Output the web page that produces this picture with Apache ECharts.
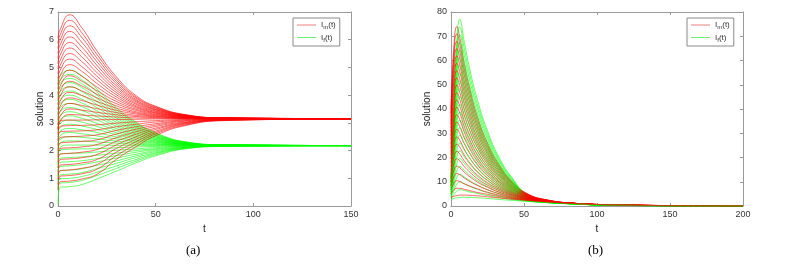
<!DOCTYPE html>
<html><head><meta charset="utf-8">
<script src="https://cdn.jsdelivr.net/npm/echarts@6/dist/echarts.min.js"></script>
<style>html,body{margin:0;padding:0;background:#fff}#c{width:799px;height:269px}</style>
</head><body><div id="c"></div>
<script>
// ---------- Panel (a) ----------
const tA = [0, 1, 6, 12, 20, 30, 40, 50, 65, 85, 150];
const xTicksA = [0, 50, 100, 150];
const yTicksA = [0, 1, 2, 3, 4, 5, 6, 7];
// I_m(t) curves (one row per curve, values at tA)
const redA = [
 [6.05,6.35,6.90,6.45,5.59,4.65,3.98,3.60,3.30,3.18,3.15],
 [5.86,6.16,6.70,6.27,5.46,4.57,3.93,3.58,3.29,3.18,3.15],
 [5.68,5.98,6.50,6.10,5.33,4.49,3.89,3.55,3.28,3.18,3.15],
 [5.50,5.80,6.30,5.92,5.20,4.41,3.84,3.53,3.28,3.18,3.15],
 [5.31,5.61,6.10,5.75,5.07,4.33,3.80,3.50,3.27,3.17,3.15],
 [5.13,5.43,5.90,5.57,4.94,4.25,3.76,3.48,3.26,3.17,3.15],
 [4.94,5.24,5.70,5.39,4.81,4.17,3.71,3.46,3.25,3.17,3.15],
 [4.76,5.06,5.50,5.22,4.68,4.09,3.67,3.43,3.24,3.17,3.15],
 [4.58,4.88,5.30,5.04,4.55,4.01,3.62,3.41,3.24,3.17,3.15],
 [4.39,4.69,5.10,4.87,4.42,3.93,3.58,3.38,3.23,3.17,3.15],
 [4.21,4.51,4.90,4.69,4.29,3.85,3.54,3.36,3.22,3.16,3.15],
 [4.02,4.32,4.70,4.51,4.16,3.77,3.49,3.34,3.21,3.16,3.15],
 [3.84,4.14,4.50,4.34,4.03,3.69,3.45,3.31,3.20,3.16,3.15],
 [3.66,3.96,4.30,4.16,3.90,3.61,3.40,3.29,3.20,3.16,3.15],
 [3.47,3.77,4.10,3.99,3.77,3.53,3.36,3.26,3.19,3.16,3.15],
 [3.29,3.59,3.90,3.81,3.64,3.45,3.32,3.24,3.18,3.16,3.15],
 [3.10,3.40,3.70,3.63,3.51,3.37,3.27,3.22,3.17,3.15,3.15],
 [2.92,3.22,3.50,3.46,3.38,3.29,3.23,3.19,3.16,3.15,3.15],
 [2.74,3.04,3.30,3.28,3.25,3.21,3.18,3.17,3.16,3.15,3.15],
 [2.77,3.07,3.10,3.10,3.11,3.12,3.13,3.14,3.14,3.15,3.15],
 [2.57,2.87,2.90,2.91,2.93,2.99,3.04,3.08,3.12,3.14,3.15],
 [2.37,2.67,2.70,2.71,2.75,2.86,2.95,3.03,3.10,3.14,3.15],
 [2.17,2.47,2.50,2.52,2.57,2.73,2.86,2.97,3.08,3.13,3.15],
 [1.97,2.27,2.30,2.33,2.39,2.60,2.77,2.92,3.06,3.12,3.15],
 [1.77,2.07,2.10,2.13,2.22,2.47,2.68,2.87,3.03,3.12,3.15],
 [1.57,1.87,1.90,1.94,2.04,2.34,2.59,2.81,3.01,3.11,3.15],
 [1.37,1.67,1.70,1.74,1.86,2.21,2.50,2.76,2.99,3.11,3.15],
 [1.17,1.47,1.50,1.55,1.68,2.08,2.41,2.70,2.97,3.10,3.15],
 [0.97,1.27,1.30,1.36,1.50,1.95,2.32,2.65,2.95,3.09,3.15],
 [0.77,1.07,1.10,1.16,1.33,1.82,2.23,2.60,2.92,3.09,3.15],
 [0.57,0.87,0.90,0.97,1.15,1.69,2.14,2.54,2.90,3.08,3.15]
];
// I_f(t) curves (one row per curve, values at tA)
const greenA = [
 [4.50,4.70,4.90,4.70,4.22,3.54,3.02,2.64,2.32,2.21,2.18],
 [4.36,4.56,4.75,4.56,4.11,3.47,2.98,2.62,2.31,2.21,2.18],
 [4.22,4.42,4.60,4.42,4.00,3.39,2.93,2.59,2.30,2.20,2.18],
 [4.07,4.27,4.45,4.28,3.88,3.32,2.88,2.57,2.29,2.20,2.18],
 [3.93,4.13,4.30,4.14,3.77,3.24,2.84,2.54,2.29,2.20,2.18],
 [3.78,3.98,4.15,4.00,3.66,3.17,2.79,2.51,2.28,2.20,2.18],
 [3.64,3.84,4.00,3.86,3.55,3.09,2.74,2.49,2.27,2.20,2.18],
 [3.50,3.70,3.85,3.72,3.43,3.02,2.70,2.46,2.26,2.20,2.18],
 [3.35,3.55,3.70,3.59,3.32,2.94,2.65,2.44,2.26,2.20,2.18],
 [3.21,3.41,3.55,3.45,3.21,2.87,2.60,2.41,2.25,2.19,2.18],
 [3.06,3.26,3.40,3.31,3.10,2.79,2.56,2.39,2.24,2.19,2.18],
 [2.92,3.12,3.25,3.17,2.98,2.72,2.51,2.36,2.23,2.19,2.18],
 [2.78,2.98,3.10,3.03,2.87,2.64,2.47,2.34,2.23,2.19,2.18],
 [2.63,2.83,2.95,2.89,2.76,2.57,2.42,2.31,2.22,2.19,2.18],
 [2.49,2.69,2.80,2.75,2.65,2.49,2.37,2.29,2.21,2.19,2.18],
 [2.34,2.54,2.65,2.61,2.53,2.42,2.33,2.26,2.20,2.18,2.18],
 [2.20,2.40,2.50,2.48,2.42,2.34,2.28,2.23,2.20,2.18,2.18],
 [2.06,2.26,2.35,2.34,2.31,2.27,2.23,2.21,2.19,2.18,2.18],
 [1.91,2.11,2.20,2.20,2.20,2.19,2.19,2.18,2.18,2.18,2.18],
 [1.82,2.02,2.05,2.06,2.07,2.10,2.13,2.15,2.17,2.18,2.18],
 [1.67,1.87,1.90,1.91,1.95,2.01,2.06,2.11,2.16,2.17,2.18],
 [1.52,1.72,1.75,1.77,1.83,1.91,2.00,2.07,2.15,2.17,2.18],
 [1.37,1.57,1.60,1.63,1.71,1.82,1.94,2.04,2.13,2.17,2.18],
 [1.22,1.42,1.45,1.49,1.59,1.73,1.87,2.00,2.12,2.17,2.18],
 [1.07,1.27,1.30,1.34,1.47,1.63,1.81,1.96,2.11,2.16,2.18],
 [0.92,1.12,1.15,1.20,1.35,1.54,1.75,1.92,2.10,2.16,2.18],
 [0.77,0.97,1.00,1.06,1.22,1.45,1.68,1.89,2.09,2.16,2.18],
 [0.62,0.82,0.85,0.92,1.10,1.36,1.62,1.85,2.07,2.15,2.18],
 [0.05,0.67,0.70,0.77,0.98,1.26,1.56,1.81,2.06,2.15,2.18]
];

// ---------- Panel (b) ----------
const tB = [0, 2, 4, 6, 9, 13, 18, 25, 33, 42, 52, 65, 85, 110, 150, 200];
const xTicksB = [0, 50, 100, 150, 200];
const yTicksB = [0, 10, 20, 30, 40, 50, 60, 70, 80];
// I_m(t): one array per time in tB, holding the value of every curve at that time
const redB = [
 [40.0,38.4,36.8,35.2,33.7,32.1,30.5,28.9,27.3,25.7,24.1,22.5,21.0,19.4,17.8,16.2,14.6,13.0,11.4,9.8,8.3,6.7,5.1,3.5],
 [66.0,63.3,60.6,57.9,55.2,52.5,49.8,47.1,44.4,41.7,39.0,36.3,33.6,31.0,28.3,25.6,22.9,20.2,17.5,14.8,12.1,9.4,6.7,4.0],
 [74.0,71.0,67.9,64.9,61.9,58.8,55.8,52.8,49.8,46.7,43.7,40.7,37.6,34.6,31.6,28.5,25.5,22.5,19.5,16.4,13.4,10.4,7.3,4.3],
 [69.5,66.7,63.8,61.0,58.2,55.4,52.5,49.7,46.9,44.0,41.2,38.4,35.6,32.7,29.9,27.1,24.2,21.4,18.6,15.8,12.9,10.1,7.3,4.45],
 [59.0,56.6,54.3,51.9,49.5,47.2,44.8,42.4,40.0,37.7,35.3,32.9,30.6,28.2,25.8,23.5,21.1,18.7,16.3,14.0,11.6,9.2,6.9,4.5],
 [48.0,46.1,44.2,42.3,40.4,38.5,36.6,34.7,32.8,30.9,29.0,27.1,25.3,23.4,21.5,19.6,17.7,15.8,13.9,12.0,10.1,8.2,6.3,4.4],
 [37.0,35.6,34.1,32.7,31.3,29.9,28.4,27.0,25.6,24.2,22.7,21.3,19.9,18.5,17.0,15.6,14.2,12.8,11.3,9.9,8.5,7.1,5.6,4.2],
 [26.0,25.0,24.1,23.1,22.1,21.2,20.2,19.2,18.3,17.3,16.3,15.4,14.4,13.5,12.5,11.5,10.6,9.6,8.6,7.7,6.7,5.7,4.8,3.8],
 [17.0,16.4,15.8,15.2,14.6,14.0,13.4,12.8,12.2,11.6,11.0,10.4,9.9,9.3,8.7,8.1,7.5,6.9,6.3,5.7,5.1,4.5,3.9,3.3],
 [10.0,9.7,9.4,9.1,8.7,8.4,8.1,7.8,7.5,7.2,6.9,6.6,6.2,5.9,5.6,5.3,5.0,4.7,4.4,4.1,3.7,3.4,3.1,2.8],
 [5.2,5.07,4.95,4.82,4.70,4.57,4.44,4.32,4.19,4.07,3.94,3.81,3.69,3.56,3.43,3.31,3.18,3.06,2.93,2.80,2.68,2.55,2.43,2.30],
 [2.60,2.56,2.52,2.48,2.44,2.40,2.37,2.33,2.29,2.25,2.21,2.17,2.13,2.09,2.05,2.01,1.97,1.93,1.90,1.86,1.82,1.78,1.74,1.70],
 [1.10,1.10,1.09,1.09,1.08,1.08,1.07,1.07,1.07,1.06,1.06,1.05,1.05,1.04,1.04,1.03,1.03,1.03,1.02,1.02,1.01,1.01,1.00,1.00],
 [0.45,0.45,0.45,0.46,0.46,0.46,0.46,0.47,0.47,0.47,0.47,0.47,0.48,0.48,0.48,0.48,0.48,0.49,0.49,0.49,0.49,0.50,0.50,0.50],
 [0.15,0.15,0.15,0.15,0.15,0.15,0.15,0.15,0.16,0.16,0.16,0.16,0.16,0.16,0.16,0.16,0.17,0.17,0.17,0.17,0.17,0.17,0.17,0.17],
 [0.03,0.03,0.03,0.03,0.03,0.03,0.03,0.03,0.03,0.03,0.03,0.03,0.04,0.04,0.04,0.04,0.04,0.04,0.04,0.04,0.04,0.04,0.04,0.04]
];
// I_f(t): one array per time in tB
const greenB = [
 [12.0,11.6,11.2,10.8,10.4,10.0,9.6,9.2,8.8,8.4,8.0,7.6,7.2,6.8,6.4,6.0,5.6,5.2,4.8,4.4,4.0,3.6,3.2,2.8],
 [40.0,38.4,36.8,35.2,33.6,32.0,30.4,28.8,27.2,25.6,24.0,22.4,20.7,19.1,17.5,15.9,14.3,12.7,11.1,9.5,7.9,6.3,4.7,3.1],
 [68.0,65.2,62.4,59.6,56.8,54.0,51.1,48.3,45.5,42.7,39.9,37.1,34.3,31.5,28.7,25.9,23.1,20.3,17.4,14.6,11.8,9.0,6.2,3.4],
 [77.0,73.8,70.6,67.4,64.2,61.0,57.8,54.6,51.5,48.3,45.1,41.9,38.7,35.5,32.3,29.1,25.9,22.7,19.5,16.3,13.1,9.9,6.7,3.55],
 [68.0,65.2,62.4,59.6,56.8,54.0,51.2,48.4,45.6,42.8,40.0,37.2,34.4,31.6,28.8,26.0,23.2,20.4,17.6,14.8,12.0,9.2,6.4,3.6],
 [56.0,53.7,51.4,49.2,46.9,44.6,42.3,40.0,37.8,35.5,33.2,30.9,28.6,26.4,24.1,21.8,19.5,17.2,15.0,12.7,10.4,8.1,5.8,3.55],
 [44.0,42.2,40.5,38.7,36.9,35.2,33.4,31.6,29.9,28.1,26.3,24.6,22.8,21.1,19.3,17.5,15.8,14.0,12.2,10.5,8.7,6.9,5.2,3.4],
 [31.0,29.8,28.6,27.4,26.1,24.9,23.7,22.5,21.3,20.1,18.9,17.7,16.4,15.2,14.0,12.8,11.6,10.4,9.2,8.0,6.7,5.5,4.3,3.1],
 [20.0,19.2,18.5,17.7,17.0,16.2,15.5,14.7,14.0,13.2,12.5,11.7,11.0,10.2,9.5,8.7,8.0,7.2,6.5,5.7,5.0,4.2,3.5,2.7],
 [11.5,11.1,10.7,10.3,9.9,9.5,9.1,8.7,8.3,7.9,7.5,7.1,6.7,6.3,5.9,5.5,5.1,4.7,4.3,3.9,3.5,3.1,2.7,2.3],
 [4.80,4.67,4.55,4.42,4.30,4.17,4.04,3.92,3.79,3.67,3.54,3.41,3.29,3.16,3.03,2.91,2.78,2.66,2.53,2.40,2.28,2.15,2.03,1.90],
 [2.10,2.07,2.04,2.01,1.98,1.95,1.92,1.89,1.86,1.83,1.80,1.77,1.74,1.70,1.67,1.64,1.61,1.58,1.55,1.52,1.49,1.46,1.43,1.40],
 [0.90,0.90,0.90,0.90,0.90,0.90,0.89,0.89,0.89,0.89,0.89,0.89,0.87,0.87,0.87,0.87,0.87,0.87,0.85,0.85,0.85,0.85,0.85,0.85],
 [0.35,0.35,0.35,0.35,0.35,0.35,0.35,0.35,0.37,0.37,0.37,0.37,0.37,0.37,0.37,0.37,0.40,0.40,0.40,0.40,0.40,0.40,0.40,0.40],
 [0.10,0.10,0.10,0.10,0.10,0.10,0.10,0.10,0.11,0.11,0.11,0.11,0.11,0.11,0.11,0.11,0.13,0.13,0.13,0.13,0.13,0.13,0.13,0.13],
 [0.02,0.02,0.02,0.02,0.02,0.02,0.02,0.02,0.02,0.02,0.02,0.02,0.03,0.03,0.03,0.03,0.03,0.03,0.03,0.03,0.03,0.03,0.03,0.03]
];

const legendNames = ['Im', 'If'];
const captions = ['(a)', '(b)'];

// ---------- build ----------
const RED = '#ff0000', GREEN = '#00ff00';
const FONT = '"Liberation Sans", Arial, Helvetica, sans-serif';
const chart = echarts.init(document.getElementById('c'), null, {renderer: 'canvas'});

function line(data, name, color, xi, yi) {
  return {type: 'line', name, data, xAxisIndex: xi, yAxisIndex: yi, showSymbol: false, symbol: 'none',
    smooth: 0.5, silent: true, animation: false, color: color,
    itemStyle: {color: color}, lineStyle: {color: color, width: 0.6}, emphasis: {disabled: true}};
}
const series = [];
const rA = redA.map(r => line(tA.map((t, j) => [t, r[j]]), legendNames[0], RED, 0, 0));
const gA = greenA.map(r => line(tA.map((t, j) => [t, r[j]]), legendNames[1], GREEN, 0, 0));
for (let k = 0; k < Math.max(rA.length, gA.length); k++) { if (rA[k]) series.push(rA[k]); if (gA[k]) series.push(gA[k]); }
const nB = redB[0].length;
for (let k = 0; k < nB; k++) {
  series.push(line(tB.map((t, j) => [t, greenB[j][k]]), legendNames[1], GREEN, 2, 2));
  series.push(line(tB.map((t, j) => [t, redB[j][k]]), legendNames[0], RED, 2, 2));
}

const axisCol = '#9a9a9a';
function xAx(grid, ticks, pos, show) {
  return {type: 'value', gridIndex: grid, position: pos, min: ticks[0], max: ticks[ticks.length - 1],
    interval: ticks[1] - ticks[0], name: show ? 't' : '', nameLocation: 'middle', nameGap: 13,
    nameTextStyle: {fontFamily: FONT, fontSize: 10, color: '#222'},
    axisLine: {show: true, onZero: false, lineStyle: {color: axisCol, width: 1}},
    axisTick: {show: true, inside: true, length: 3, lineStyle: {color: axisCol}},
    axisLabel: {show: show, fontFamily: FONT, fontSize: 9, color: '#333', margin: 4},
    splitLine: {show: false}};
}
function yAx(grid, ticks, pos, show, gap) {
  return {type: 'value', gridIndex: grid, position: pos, min: ticks[0], max: ticks[ticks.length - 1],
    interval: ticks[1] - ticks[0], name: show ? 'solution' : '', nameLocation: 'middle', nameGap: gap,
    nameTextStyle: {fontFamily: FONT, fontSize: 10, color: '#222'},
    axisLine: {show: true, onZero: false, lineStyle: {color: axisCol, width: 1}},
    axisTick: {show: true, inside: true, length: 3, lineStyle: {color: axisCol}},
    axisLabel: {show: show, fontFamily: FONT, fontSize: 9, color: '#333', margin: 4},
    splitLine: {show: false}};
}
const LEG_RED = '#f27878', LEG_GREEN = '#66ee66';
function legend(left) {
  return {left: left, top: 18, orient: 'vertical',
    data: [
      {name: legendNames[0], icon: 'path://M0,0L20,0L20,1L0,1Z', itemStyle: {color: LEG_RED, borderWidth: 0}, lineStyle: {color: LEG_RED, width: 1}},
      {name: legendNames[1], icon: 'path://M0,0L20,0L20,1L0,1Z', itemStyle: {color: LEG_GREEN, borderWidth: 0}, lineStyle: {color: LEG_GREEN, width: 1}}
    ],
    itemWidth: 19, itemHeight: 1,
    itemGap: 3, padding: [3, 4, 3, 4], borderColor: '#8a8a8a', borderWidth: 1, backgroundColor: '#fff',
    selectedMode: false, inactiveColor: LEG_GREEN,
    formatter: n => n === 'Im' ? '{a|I}{s|m}{a|(t)}' : '{a|I}{s|f}{a|(t)}',
    textStyle: {fontFamily: FONT, fontSize: 8, color: '#333',
      rich: {a: {fontFamily: FONT, fontSize: 8, color: '#333'},
             s: {fontFamily: FONT, fontSize: 6, color: '#333', verticalAlign: 'bottom', padding: [5, 0, 0, 0]}}}};
}

chart.setOption({
  animation: false,
  backgroundColor: '#fff',
  grid: [
    {left: 58, top: 12, width: 293, height: 194},
    {left: 451, top: 12, width: 292, height: 194}
  ],
  xAxis: [xAx(0, xTicksA, 'bottom', true), xAx(0, xTicksA, 'top', false),
          xAx(1, xTicksB, 'bottom', true), xAx(1, xTicksB, 'top', false)],
  yAxis: [yAx(0, yTicksA, 'left', true, 12), yAx(0, yTicksA, 'right', false, 0),
          yAx(1, yTicksB, 'left', true, 19), yAx(1, yTicksB, 'right', false, 0)],
  legend: [legend(293), legend(687)],
  graphic: [
    {type: 'text', left: 186, top: 244, style: {text: captions[0], font: '13px "Liberation Serif", "Times New Roman", serif', fill: '#000'}},
    {type: 'text', left: 588, top: 244, style: {text: captions[1], font: '13px "Liberation Serif", "Times New Roman", serif', fill: '#000'}}
  ],
  series: series
});
</script></body></html>
